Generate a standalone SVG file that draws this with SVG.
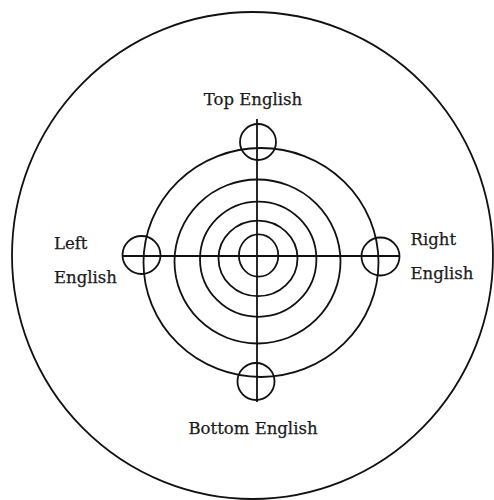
<svg xmlns="http://www.w3.org/2000/svg" width="494" height="500" viewBox="0 0 494 500">
<style>
.ln{fill:none;stroke:#111;stroke-width:1.8}
.lb{font-family:"DejaVu Serif","Liberation Serif",serif;font-size:16.5px;fill:#1a1a1a;stroke:#1a1a1a;stroke-width:0.25}
</style>
<rect width="494" height="500" fill="#fff"/>
<g id="table">
<ellipse class="ln" cx="252.5" cy="255.5" rx="240.5" ry="243.5"/>
</g>
<g id="target">
<ellipse class="ln" cx="261" cy="262.5" rx="117.5" ry="114.5"/>
<ellipse class="ln" cx="257.5" cy="261.5" rx="83" ry="82"/>
<ellipse class="ln" cx="258.2" cy="259.2" rx="58.2" ry="57.6"/>
<ellipse class="ln" cx="258" cy="258.4" rx="39.5" ry="37.8"/>
<ellipse class="ln" cx="258.6" cy="255.5" rx="19.7" ry="21.2"/>
</g>
<g id="connectors">
<line class="ln" x1="257" y1="119" x2="257" y2="402"/>
<line class="ln" x1="122" y1="256" x2="400" y2="256"/>
</g>
<g id="top-english">
<circle class="ln" cx="258" cy="142" r="18"/>
<text class="lb" x="253" y="105" text-anchor="middle">Top English</text>
</g>
<g id="left-english">
<circle class="ln" cx="141.5" cy="255" r="19"/>
<text class="lb" x="54" y="249">Left</text>
<text class="lb" x="54" y="283">English</text>
</g>
<g id="right-english">
<circle class="ln" cx="380.5" cy="256.5" r="19"/>
<text class="lb" x="410.5" y="245">Right</text>
<text class="lb" x="410.5" y="278.5">English</text>
</g>
<g id="bottom-english">
<circle class="ln" cx="256" cy="381.5" r="18.5"/>
<text class="lb" x="253" y="434" text-anchor="middle">Bottom English</text>
</g>
</svg>
